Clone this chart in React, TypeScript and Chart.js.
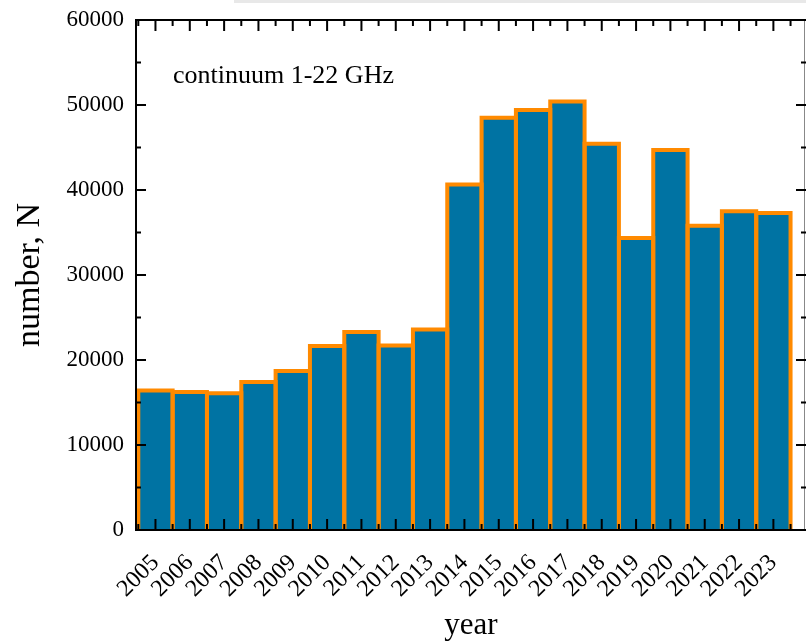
import React, { useEffect, useRef } from "react";
import { Chart, registerables } from "chart.js";

Chart.register(...registerables);

const years = [2005, 2006, 2007, 2008, 2009, 2010, 2011, 2012, 2013, 2014, 2015, 2016, 2017, 2018, 2019, 2020, 2021, 2022, 2023];
const counts = [16400, 16250, 16100, 17400, 18700, 21650, 23300, 21700, 23600, 40650, 48500, 49400, 50400, 45450, 34350, 44700, 35800, 37500, 37300];
const yTicks = [0, 10000, 20000, 30000, 40000, 50000, 60000];
const yMinorTicks = [5000, 15000, 25000, 35000, 45000, 55000];
const annotationText = "continuum 1-22 GHz";
const xTitle = "year";
const yTitle = "number, N";

const FILL = "#0073a3";
const EDGE = "#ff8a00";
const FONT = "'Liberation Serif', 'Times New Roman', serif";

const decorPlugin = {
  id: "decor",
  beforeDraw(chart: any) {
    const ctx = chart.ctx;
    ctx.save();
    ctx.fillStyle = "#e8e8e8";
    ctx.fillRect(234, 0, 572, 3);
    ctx.restore();
  },
  afterDatasetsDraw(chart: any) {
    const ctx = chart.ctx;
    const meta = chart.getDatasetMeta(0);
    ctx.save();
    ctx.strokeStyle = EDGE;
    ctx.lineWidth = 4;
    ctx.lineJoin = "miter";
    meta.data.forEach((el: any) => {
      const p = el.getProps(["x", "y", "base", "width"], true);
      const l = p.x - p.width / 2;
      const r = p.x + p.width / 2;
      ctx.beginPath();
      ctx.moveTo(l, p.base);
      ctx.lineTo(l, p.y);
      ctx.lineTo(r, p.y);
      ctx.lineTo(r, p.base);
      ctx.stroke();
    });
    ctx.restore();
  },
  afterDraw(chart: any) {
    const ctx = chart.ctx;
    const { left, right, top, bottom } = chart.chartArea;
    const xs = chart.scales.x;
    const ys = chart.scales.y;
    ctx.save();
    ctx.strokeStyle = "#000";
    ctx.lineWidth = 2;
    ctx.beginPath();
    ctx.moveTo(left, bottom);
    ctx.lineTo(right, bottom);
    ctx.moveTo(left, top);
    ctx.lineTo(right, top);
    ctx.moveTo(left, top - 1);
    ctx.lineTo(left, bottom + 1);
    ctx.stroke();
    ctx.strokeStyle = "#888";
    ctx.lineWidth = 1;
    ctx.beginPath();
    ctx.moveTo(right - 1.5, top);
    ctx.lineTo(right - 1.5, bottom);
    ctx.stroke();
    ctx.strokeStyle = "#000";
    ctx.lineWidth = 2;
    // y ticks
    ctx.beginPath();
    yTicks.forEach((v) => {
      const py = ys.getPixelForValue(v);
      ctx.moveTo(left, py);
      ctx.lineTo(left + 10, py);
      ctx.moveTo(right, py);
      ctx.lineTo(right - 10, py);
    });
    yMinorTicks.forEach((v) => {
      const py = ys.getPixelForValue(v);
      ctx.moveTo(left, py);
      ctx.lineTo(left + 5, py);
      ctx.moveTo(right, py);
      ctx.lineTo(right - 5, py);
    });
    // x ticks
    years.forEach((yr) => {
      const px = xs.getPixelForValue(yr);
      ctx.moveTo(px, bottom);
      ctx.lineTo(px, bottom - 11);
      ctx.moveTo(px, top);
      ctx.lineTo(px, top + 11);
    });
    [years[0] - 0.5, ...years.map((y) => y + 0.5)].forEach((e) => {
      const px = xs.getPixelForValue(e);
      ctx.moveTo(px, bottom);
      ctx.lineTo(px, bottom - 6);
      ctx.moveTo(px, top);
      ctx.lineTo(px, top + 6);
    });
    ctx.stroke();
    // annotation
    ctx.fillStyle = "#000";
    ctx.font = `26px ${FONT}`;
    ctx.textAlign = "left";
    ctx.textBaseline = "alphabetic";
    ctx.fillText(annotationText, 173, 83);
    ctx.restore();
  },
};

export default function App() {
  const ref = useRef<HTMLCanvasElement>(null);
  useEffect(() => {
    if (!ref.current) return;
    const chart = new Chart(ref.current, {
      type: "bar",
      data: {
        datasets: [
          {
            data: years.map((y, i) => ({ x: y, y: counts[i] })),
            backgroundColor: FILL,
            borderWidth: 0,
            barPercentage: 1,
            categoryPercentage: 1,
          },
        ],
      },
      options: {
        animation: false,
        responsive: false,
        devicePixelRatio: 1,
        layout: { padding: { top: 20, right: 0, left: 0, bottom: 0 } },
        plugins: { legend: { display: false }, tooltip: { enabled: false } },
        scales: {
          x: {
            type: "linear",
            min: 2004.433,
            max: 2023.95,
            offset: false,
            grid: { display: false, drawTicks: false },
            border: { display: false },
            afterBuildTicks: (scale: any) => {
              scale.ticks = years.map((v) => ({ value: v }));
            },
            afterFit: (scale: any) => {
              scale.height = 113;
              scale.paddingLeft = 0;
              scale.paddingRight = 0;
            },
            ticks: {
              autoSkip: false,
              minRotation: 45,
              maxRotation: 45,
              padding: 19,
              color: "#000",
              font: { family: FONT, size: 24 },
              callback: (v: any) => String(v),
            },
            title: {
              display: true,
              text: xTitle,
              color: "#000",
              font: { family: FONT, size: 31 },
              padding: { top: 0, bottom: -1 },
            },
          },
          y: {
            min: 0,
            max: 60000,
            grid: { display: false, drawTicks: false },
            border: { display: false },
            afterBuildTicks: (scale: any) => {
              scale.ticks = yTicks.map((v) => ({ value: v }));
            },
            afterFit: (scale: any) => {
              scale.width = 136;
              scale.paddingTop = 0;
              scale.paddingBottom = 0;
            },
            ticks: {
              padding: 12,
              color: "#000",
              font: { family: FONT, size: 23 },
              callback: (v: any) => String(v),
            },
            title: {
              display: true,
              text: yTitle,
              color: "#000",
              font: { family: FONT, size: 34 },
              padding: { top: 10, bottom: 0 },
            },
          },
        },
      },
      plugins: [decorPlugin],
    });
    return () => chart.destroy();
  }, []);
  return (
    <canvas
      ref={ref}
      width={806}
      height={643}
      style={{ position: "absolute", left: 0, top: 0, display: "block" }}
    />
  );
}
